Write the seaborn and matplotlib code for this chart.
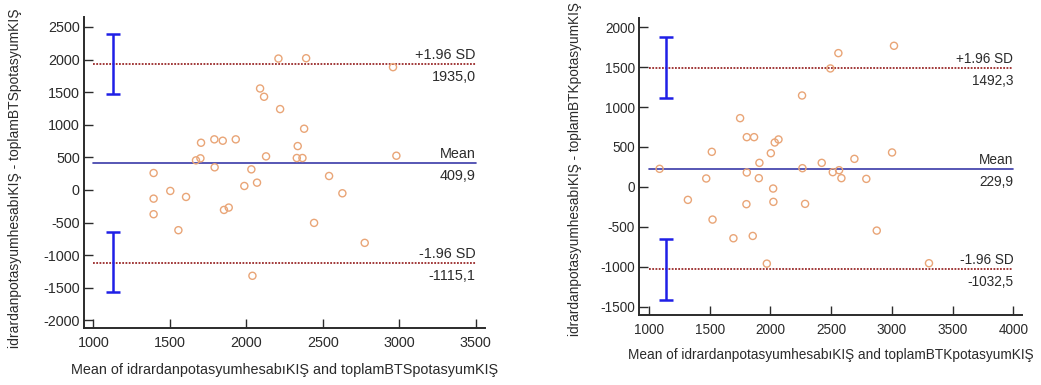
import matplotlib
matplotlib.use("Agg")
import matplotlib.pyplot as plt
import seaborn as sns
import pandas as pd

# ---------------- data ----------------
left_means = [1394, 1394, 1394, 1503, 1556, 1606, 1671, 1700, 1704, 1791, 1793, 1846,
              1854, 1885, 1931, 1987, 2033, 2040, 2070, 2090, 2116, 2129, 2210, 2221,
              2336, 2330, 2367, 2378, 2391, 2443, 2541, 2628, 2774, 2959, 2981]
left_diffs = [260, -133, -372, -15, -617, -107, 454, 485, 724, 776, 347, 755,
              -306, -270, 776, 61, 316, -1316, 112, 1556, 1429, 515, 2015, 1240,
              673, 490, 490, 939, 2020, -505, 214, -51, -811, 1883, 525]
left_stats = [409.9, 1935.0, -1115.1]          # mean, +1.96 SD, -1.96 SD
left_stat_text = ["409,9", "1935,0", "-1115,1"]
left_ci_upper = [1474, 2398]
left_ci_lower = [-1561, -648]
left_xticks = [1000, 1500, 2000, 2500, 3000, 3500]
left_yticks = [-2000, -1500, -1000, -500, 0, 500, 1000, 1500, 2000, 2500]
left_xlabel = "Mean of idrardanpotasyumhesabıKIŞ and toplamBTSpotasyumKIŞ"
left_ylabel = "idrardanpotasyumhesabıKIŞ - toplamBTSpotasyumKIŞ"

right_means = [1088, 1321, 1472, 1518, 1524, 1696, 1751, 1806, 1806, 1803, 1866, 1855,
               1910, 1905, 1971, 2004, 2023, 2025, 2036, 2067, 2261, 2264, 2286, 2423,
               2494, 2514, 2560, 2566, 2585, 2692, 2790, 2876, 3002, 3018, 3306]
right_diffs = [226, -163, 105, 439, -410, -644, 861, 623, 180, -217, 623, -615,
               301, 109, -962, 422, -21, -188, 556, 594, 1145, 234, -213, 301,
               1484, 184, 1676, 209, 109, 351, 100, -548, 431, 1768, -957]
right_stats = [229.9, 1492.3, -1032.5]
right_stat_text = ["229,9", "1492,3", "-1032,5"]
right_ci_upper = [1112, 1873]
right_ci_lower = [-1417, -648]
right_xticks = [1000, 1500, 2000, 2500, 3000, 3500, 4000]
right_yticks = [-1500, -1000, -500, 0, 500, 1000, 1500, 2000]
right_xlabel = "Mean of idrardanpotasyumhesabıKIŞ and toplamBTKpotasyumKIŞ"
right_ylabel = "idrardanpotasyumhesabıKIŞ - toplamBTKpotasyumKIŞ"

# ---------------- style ----------------
sns.set_style("ticks")
plt.rcParams["font.family"] = ["Liberation Sans", "DejaVu Sans"]
plt.rcParams["axes.unicode_minus"] = False

TEXT = "#2b2b2b"
MEAN_C = "#3a3aa8"
LIM_C = "#9a2a2a"
CI_C = "#1f1fe6"
PT_C = "#e9a577"

fig = plt.figure(figsize=(10.41, 3.85), dpi=100)
ax1 = fig.add_axes([0.0807, 0.148, 0.466 - 0.0807, 0.956 - 0.148])
ax2 = fig.add_axes([0.614, 0.182, 0.982 - 0.614, 0.953 - 0.182])


def draw(ax, means, diffs, stats, stat_text, ci_up, ci_lo, xticks, yticks,
         xlim, ylim, xlabel, ylabel, ci_x, ylab_x, xlab_y, fs, ylab_y, ylab_fs):
    df = pd.DataFrame({"m": means, "d": diffs})
    sns.scatterplot(data=df, x="m", y="d", ax=ax, marker="o", s=26,
                    facecolor="none", edgecolor=PT_C, linewidth=1.0, zorder=3)
    x0, x1 = xticks[0], xticks[-1]
    ax.plot([x0, x1], [stats[0], stats[0]], color=MEAN_C, lw=1.2, zorder=2)
    for v in stats[1:]:
        ax.plot([x0, x1], [v, v], color=LIM_C, lw=1.3, ls=(0, (1, 0.8)), zorder=2)
    for lo, hi in (ci_up, ci_lo):
        ax.errorbar([ci_x], [(lo + hi) / 2], yerr=[[(hi - lo) / 2], [(hi - lo) / 2]],
                    fmt="none", ecolor=CI_C, elinewidth=1.8, capsize=5.2,
                    capthick=1.8, zorder=4)
    labels = ["Mean", "+1.96 SD", "-1.96 SD"]
    for v, lab, val in zip(stats, labels, stat_text):
        ax.annotate(lab, (x1, v), xytext=(0, 3.5), textcoords="offset points",
                    ha="right", va="baseline", fontsize=fs, color=TEXT)
        ax.annotate(val, (x1, v), xytext=(0, -4.5), textcoords="offset points",
                    ha="right", va="top", fontsize=fs, color=TEXT)
    ax.set_xlim(*xlim)
    ax.set_ylim(*ylim)
    ax.set_xticks(xticks)
    ax.set_yticks(yticks)
    ax.tick_params(direction="in", length=6.5, width=1.0, colors=TEXT,
                   labelsize=fs, labelcolor=TEXT)
    ax.tick_params(axis="x", pad=6)
    ax.tick_params(axis="y", pad=3)
    for s in ("top", "right"):
        ax.spines[s].set_visible(False)
    for s in ("left", "bottom"):
        ax.spines[s].set_linewidth(1.4)
        ax.spines[s].set_color(TEXT)
    ax.set_xlabel(xlabel, fontsize=fs, color=TEXT)
    ax.set_ylabel(ylabel, fontsize=ylab_fs, color=TEXT)
    ax.xaxis.set_label_coords(0.5, xlab_y)
    ax.xaxis.label.set_va("top")
    ax.yaxis.set_label_coords(ylab_x, ylab_y)


draw(ax1, left_means, left_diffs, left_stats, left_stat_text, left_ci_upper,
     left_ci_lower, left_xticks, left_yticks, (939, 3561), (-2117, 2653),
     left_xlabel, left_ylabel, 1126, -0.155, -0.113, 10.4, 0.482, 10.0)
draw(ax2, right_means, right_diffs, right_stats, right_stat_text, right_ci_upper,
     right_ci_lower, right_xticks, right_yticks, (920, 4074), (-1605, 2115),
     right_xlabel, right_ylabel, 1143, -0.15, -0.111, 9.8, 0.49, 9.8)

fig.savefig("out.png", dpi=100)
